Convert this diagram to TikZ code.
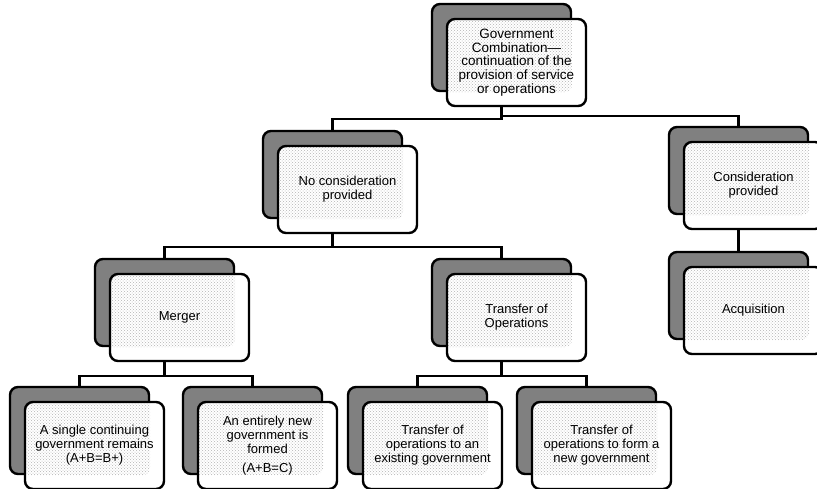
\documentclass[tikz,border=0pt]{standalone}
\usepackage{fontspec}
\setmainfont{Liberation Sans}
\usetikzlibrary{patterns}
\definecolor{shadow-gray}{HTML}{808080}
\definecolor{dot-gray}{HTML}{B4B4B4}

\begin{document}
\begin{tikzpicture}[x=1pt, y=-1pt,
    every node/.style={font=\fontsize{13}{14}\selectfont},
    backbox/.style={draw, line width=2.4pt, rounded corners=8pt,
      fill=shadow-gray, minimum width=139pt, minimum height=87pt,
      inner sep=0pt},
    frontbox/.style={draw, line width=2.4pt, rounded corners=8pt,
      fill=white, minimum width=139pt, minimum height=87pt,
      align=center, inner sep=2pt,
      path picture={\fill[pattern=crosshatch dots, pattern color=dot-gray,
        rounded corners=8pt] (#1.north west) rectangle (#1.south east);}},
    link/.style={line width=2.4pt}]
    \useasboundingbox (0, 0) rectangle (817, 488);

    % shadow boxes
    \node[backbox] (gov-bk) at (501.5, 47.5) {};
    \node[backbox] (nocon-bk) at (332.5, 174.5) {};
    \node[backbox] (con-bk) at (738.5, 170.5) {};
    \node[backbox] (acq-bk) at (738.5, 295.5) {};
    \node[backbox] (mrg-bk) at (164.5, 302.5) {};
    \node[backbox] (tro-bk) at (501.5, 302.5) {};
    \node[backbox] (one-bk) at (79.5, 430.5) {};
    \node[backbox] (new-bk) at (252.5, 430.5) {};
    \node[backbox] (exi-bk) at (417.5, 430.5) {};
    \node[backbox] (frm-bk) at (586.5, 430.5) {};

    % connectors
    \draw[link] (gov-bk.south) -- ++(0, 27) -| (nocon-bk.north);
    \draw[link] (gov-bk.south) -- ++(0, 24) -| (con-bk.north);
    \draw[link] (con-bk.south) -- (acq-bk.north);
    \draw[link] (nocon-bk.south) -- ++(0, 28) -| (mrg-bk.north);
    \draw[link] (nocon-bk.south) -- ++(0, 28) -| (tro-bk.north);
    \draw[link] (mrg-bk.south) -- ++(0, 29) -| (one-bk.north);
    \draw[link] (mrg-bk.south) -- ++(0, 29) -| (new-bk.north);
    \draw[link] (tro-bk.south) -- ++(0, 29) -| (exi-bk.north);
    \draw[link] (tro-bk.south) -- ++(0, 29) -| (frm-bk.north);

    % front boxes
    \node[frontbox=gov-bk, font=\fontsize{13.5}{13.6}\selectfont]
      (gov) at (516.5, 62.5) {Government\\Combination—\\continuation of the\\
      provision of service\\or operations};
    \node[frontbox=nocon-bk] (nocon) at (347.5, 189.5)
      {No consideration\\provided};
    \node[frontbox=con-bk] (con) at (753.5, 185.5)
      {Consideration\\provided};
    \node[frontbox=acq-bk] (acq) at (753.5, 310.5) {Acquisition};
    \node[frontbox=mrg-bk] (mrg) at (179.5, 317.5) {Merger};
    \node[frontbox=tro-bk] (tro) at (516.5, 317.5)
      {Transfer of\\Operations};
    \node[frontbox=one-bk] (one) at (94.5, 445.5)
      {A single continuing\\government remains\\(A+B=B+)};
    \node[frontbox=new-bk] (new) at (267.5, 445.5)
      {An entirely new\\government is\\formed\\[5pt](A+B=C)};
    \node[frontbox=exi-bk] (exi) at (432.5, 445.5)
      {Transfer of\\operations to an\\existing government};
    \node[frontbox=frm-bk] (frm) at (601.5, 445.5)
      {Transfer of\\operations to form a\\new government};
  \end{tikzpicture}
\end{document}
